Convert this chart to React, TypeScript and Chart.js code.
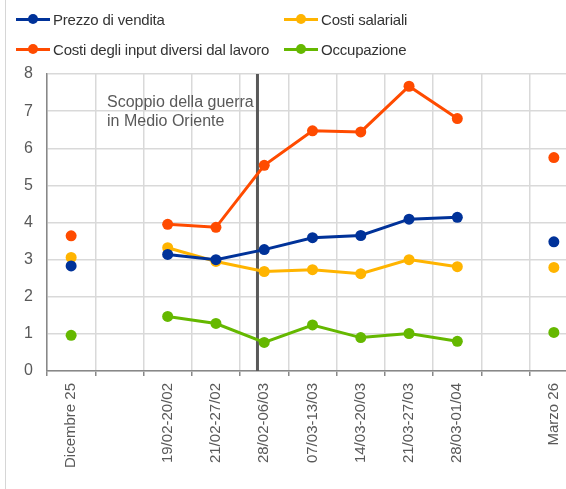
import React, { useEffect, useRef } from "react";
import { Chart, registerables } from "chart.js";

Chart.register(...registerables);

const categories = [
  "Dicembre 25",
  "",
  "19/02-20/02",
  "21/02-27/02",
  "28/02-06/03",
  "07/03-13/03",
  "14/03-20/03",
  "21/03-27/03",
  "28/03-01/04",
  "",
  "Marzo 26",
];

const prezzoVendita = [2.83, null, 3.14, 3.0, 3.27, 3.59, 3.65, 4.09, 4.14, null, 3.48];
const costiSalariali = [3.06, null, 3.32, 2.95, 2.68, 2.73, 2.62, 3.0, 2.81, null, 2.79];
const costiNonLavoro = [3.64, null, 3.95, 3.87, 5.54, 6.47, 6.44, 7.67, 6.8, null, 5.75];
const occupazione = [0.96, null, 1.47, 1.28, 0.77, 1.24, 0.9, 1.01, 0.8, null, 1.04];

const seriesNames = [
  "Prezzo di vendita",
  "Costi salariali",
  "Costi degli input diversi dal lavoro",
  "Occupazione",
];
const seriesColors = ["#003299", "#FFB400", "#FF4B00", "#65B800"];

const yTicks = [0, 1, 2, 3, 4, 5, 6, 7, 8];
const guerraPosition = 3.86;
const annotationLines = ["Scoppio della guerra", "in Medio Oriente"];

const FONT = "'Liberation Sans', Arial, sans-serif";

const guerraPlugin = {
  id: "guerra",
  beforeDatasetsDraw(chart: any) {
    const { ctx, chartArea, scales } = chart;
    const x = scales.x.getPixelForValue(guerraPosition);
    ctx.save();
    ctx.strokeStyle = "#595959";
    ctx.lineWidth = 3;
    ctx.beginPath();
    ctx.moveTo(x, chartArea.top);
    ctx.lineTo(x, chartArea.bottom);
    ctx.stroke();
    ctx.fillStyle = "#595959";
    ctx.font = `16px ${FONT}`;
    ctx.textAlign = "left";
    ctx.textBaseline = "alphabetic";
    annotationLines.forEach((t, i) => {
      ctx.fillText(t, chartArea.left + 60, chartArea.top + 33 + i * 19);
    });
    ctx.restore();
  },
};

export default function App() {
  const ref = useRef<HTMLCanvasElement>(null);

  useEffect(() => {
    if (!ref.current) return;
    const datasets = [prezzoVendita, costiSalariali, costiNonLavoro, occupazione].map(
      (data, i) => ({
        label: seriesNames[i],
        data,
        borderColor: seriesColors[i],
        backgroundColor: seriesColors[i],
        pointBackgroundColor: seriesColors[i],
        pointBorderColor: seriesColors[i],
        borderWidth: 3,
        pointRadius: 5.5,
        pointBorderWidth: 0,
        tension: 0,
        spanGaps: false,
      })
    );
    const chart = new Chart(ref.current, {
      type: "line",
      data: { labels: categories, datasets },
      plugins: [guerraPlugin],
      options: {
        responsive: false,
        animation: false,
        devicePixelRatio: 1,
        layout: { padding: { top: 74, right: 22, left: 0, bottom: 0 } },
        plugins: { legend: { display: false }, tooltip: { enabled: false } },
        scales: {
          x: {
            offset: true,
            grid: {
              offset: true,
              color: "#d9d9d9",
              lineWidth: 1.5,
              tickColor: "#888888",
              tickLength: 5,
            },
            border: { color: "#888888", width: 1.5 },
            ticks: {
              color: "#595959",
              font: { family: FONT, size: 15 },
              maxRotation: 90,
              minRotation: 90,
              autoSkip: false,
              padding: 7,
            },
            afterFit(scale: any) {
              scale.height = 118;
            },
          },
          y: {
            min: 0,
            max: 8,
            afterBuildTicks(scale: any) {
              scale.ticks = yTicks.map((v) => ({ value: v }));
            },
            grid: { color: "#d9d9d9", lineWidth: 1.5, drawTicks: false },
            border: { color: "#888888", width: 1.5 },
            ticks: {
              color: "#595959",
              font: { family: FONT, size: 16 },
              padding: 14,
            },
            afterFit(scale: any) {
              scale.width = 47;
            },
          },
        },
      },
    });
    return () => chart.destroy();
  }, []);

  const legendItem = (i: number, left: number, top: number) => (
    <div
      key={i}
      style={{
        position: "absolute",
        left,
        top,
        height: 20,
        display: "flex",
        alignItems: "center",
        whiteSpace: "nowrap",
      }}
    >
      <div style={{ position: "relative", width: 34, height: 20, marginRight: 3 }}>
        <div
          style={{
            position: "absolute",
            left: 0,
            top: 8.5,
            width: 34,
            height: 3,
            background: seriesColors[i],
          }}
        />
        <div
          style={{
            position: "absolute",
            left: 12,
            top: 5,
            width: 10,
            height: 10,
            borderRadius: 5,
            background: seriesColors[i],
          }}
        />
      </div>
      <span style={{ fontFamily: FONT, fontSize: 15, color: "#333333", letterSpacing: -0.2 }}>
        {seriesNames[i]}
      </span>
    </div>
  );

  return (
    <div
      style={{
        position: "fixed",
        left: 0,
        top: 0,
        width: 566,
        height: 489,
        overflow: "hidden",
        background: "#ffffff",
      }}
    >
      <canvas ref={ref} width={600} height={489} style={{ position: "absolute", left: 0, top: 0 }} />
      <div
        style={{ position: "absolute", left: 5, top: 0, width: 1, height: 489, background: "#d6d6d6" }}
      />
      {legendItem(0, 16, 9)}
      {legendItem(1, 284, 9)}
      {legendItem(2, 16, 39)}
      {legendItem(3, 284, 39)}
    </div>
  );
}
